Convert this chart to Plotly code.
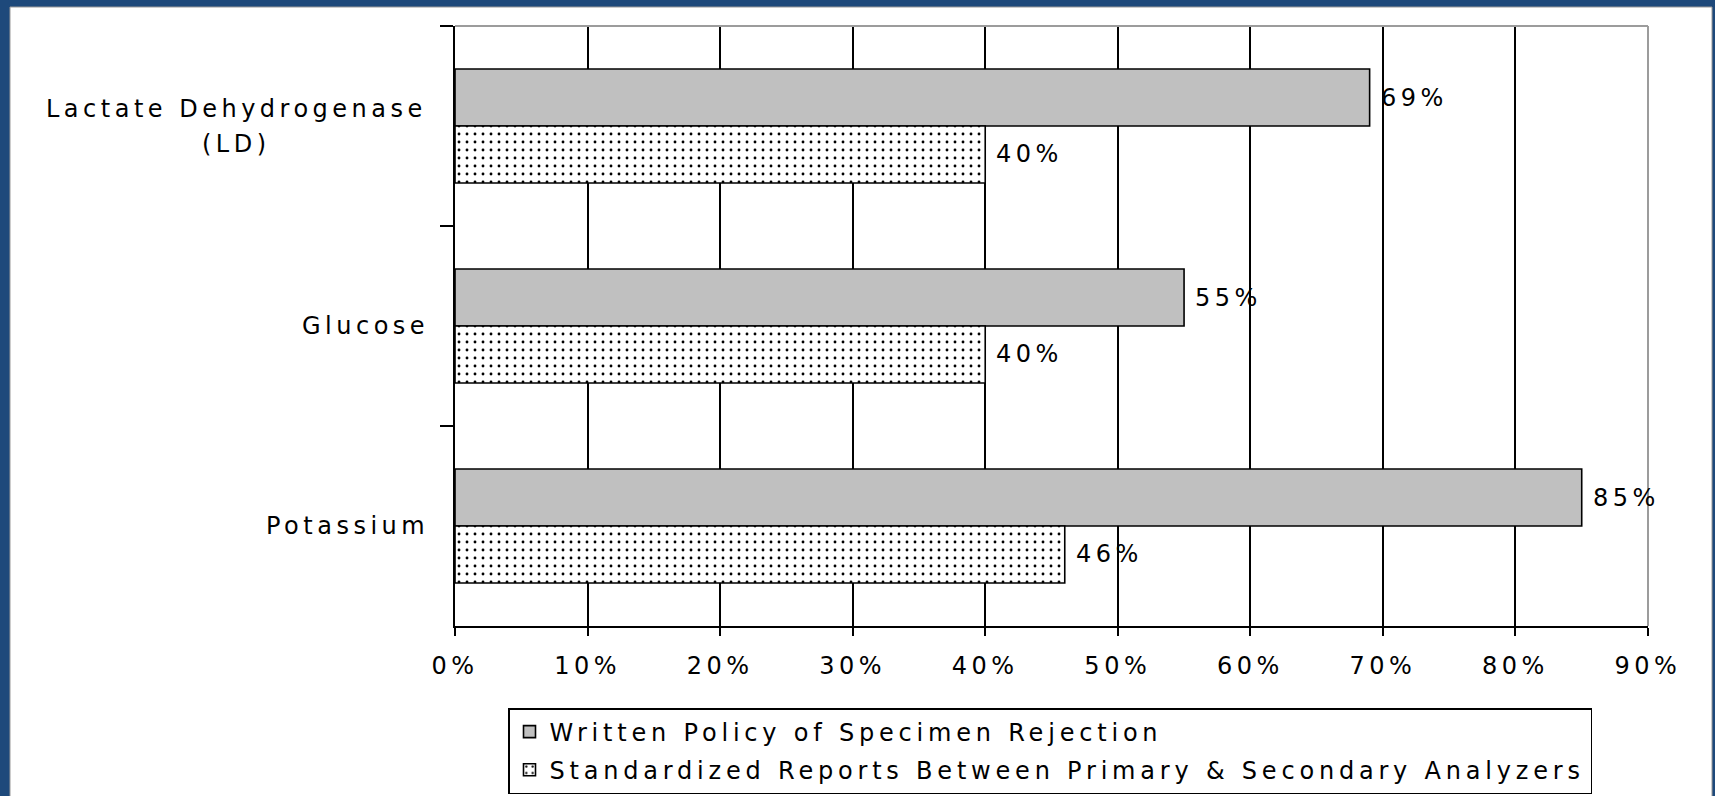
import plotly.graph_objects as go

# ---- data -------------------------------------------------------------
categories = ["Lactate Dehydrogenase<br>(LD)", "Glucose", "Potassium"]
written_policy = [69, 55, 85]
standardized_reports = [40, 40, 46]
series_names = [
    "Written Policy of Specimen Rejection",
    "Standardized Reports Between Primary & Secondary Analyzers",
]
x_ticks = [0, 10, 20, 30, 40, 50, 60, 70, 80, 90]
x_tick_labels = ["0%", "10%", "20%", "30%", "40%", "50%", "60%", "70%", "80%", "90%"]

# ---- page geometry ----------------------------------------------------
WIDTH, HEIGHT = 1715, 796
M_L, M_R, M_T, M_B = 455, 67, 26, 170
PLOT_W = WIDTH - M_L - M_R
PLOT_H = HEIGHT - M_T - M_B

FONT = "DejaVu Sans"
FSIZE = 24
SPACING = 4.5
LEGEND_SPACING = 4.8


def spaced(s, sp=SPACING):
    """Wrap text in a span that widens the letter spacing."""
    return f'<span style="letter-spacing:{sp}px">{s}</span>'


def px_x(px):
    return (px - M_L) / PLOT_W


def px_y(py):
    return (HEIGHT - M_B - py) / PLOT_H


fig = go.Figure()

fig.add_trace(go.Bar(
    name=spaced(series_names[0], LEGEND_SPACING),
    x=written_policy,
    y=categories,
    orientation="h",
    legendgroup="a",
    marker=dict(color="#C0C0C0", line=dict(color="black", width=1.6)),
    hoverinfo="skip",
))
fig.add_trace(go.Bar(
    name=spaced(series_names[1], LEGEND_SPACING),
    x=standardized_reports,
    y=categories,
    orientation="h",
    legendgroup="b",
    marker=dict(
        color="white",
        line=dict(color="black", width=1.6),
        pattern=dict(shape=".", fgcolor="black", bgcolor="white",
                     size=8, solidity=0.1, fillmode="replace"),
    ),
    hoverinfo="skip",
))

annotations = []

# value labels beside each bar
for vals, shift in ((written_policy, 28), (standardized_reports, -28)):
    for cat, v in zip(categories, vals):
        annotations.append(dict(
            x=v, y=cat, xref="x", yref="y",
            text=spaced(f"{v}%"), showarrow=False,
            xanchor="left", yanchor="middle", xshift=9, yshift=shift,
            font=dict(family=FONT, size=FSIZE, color="black"),
        ))

# category labels left of the axis (multi-line labels centred line by line)
for cat in categories:
    lines = cat.split("<br>")
    if len(lines) == 1:
        annotations.append(dict(
            x=0, y=cat, xref="paper", yref="y",
            text=spaced(lines[0]), showarrow=False,
            xanchor="right", yanchor="middle", xshift=-24,
            font=dict(family=FONT, size=FSIZE, color="black"),
        ))
    else:
        n = len(lines)
        for i, line in enumerate(lines):
            annotations.append(dict(
                x=px_x(236), y=cat, xref="paper", yref="y",
                text=spaced(line), showarrow=False,
                xanchor="center", yanchor="middle",
                yshift=(n - 1) / 2 * 35 - i * 35,
                font=dict(family=FONT, size=FSIZE, color="black"),
            ))

shapes = [
    # white page inside the blue frame
    dict(type="rect", xref="paper", yref="paper",
         x0=px_x(10), x1=px_x(1712), y0=px_y(7), y1=px_y(820),
         fillcolor="white", line=dict(color="#9A9A9A", width=1), layer="below"),
    # grey top and right edges of the plot area
    dict(type="line", xref="paper", yref="paper", x0=0, x1=1, y0=1, y1=1,
         line=dict(color="#9C9C9C", width=2), layer="above"),
    dict(type="line", xref="paper", yref="paper", x0=1, x1=1, y0=0, y1=1,
         line=dict(color="#9C9C9C", width=2), layer="above"),
]

fig.update_layout(
    width=WIDTH, height=HEIGHT,
    margin=dict(l=M_L, r=M_R, t=M_T, b=M_B, pad=0, autoexpand=False),
    paper_bgcolor="#1E497B",
    plot_bgcolor="white",
    barmode="group",
    bargap=0.43,
    bargroupgap=0,
    font=dict(family=FONT, size=FSIZE, color="black"),
    showlegend=True,
    legend=dict(
        x=px_x(508), y=px_y(708), xanchor="left", yanchor="top",
        bgcolor="white", bordercolor="black", borderwidth=1.5,
        traceorder="grouped", tracegroupgap=4,
        font=dict(family=FONT, size=FSIZE, color="black"),
        itemwidth=30,
    ),
    xaxis=dict(
        range=[0, 90], tickvals=x_ticks,
        ticktext=[spaced(t) for t in x_tick_labels],
        showgrid=True, gridcolor="black", gridwidth=2,
        showline=True, linecolor="black", linewidth=2,
        ticks="outside", ticklen=8, tickwidth=2, tickcolor="black",
        zeroline=False, ticklabelstandoff=9,
        tickfont=dict(family=FONT, size=FSIZE, color="black"),
    ),
    yaxis=dict(
        type="category", categoryorder="array", categoryarray=categories,
        autorange="reversed",
        showgrid=False, showline=True, linecolor="black", linewidth=2,
        ticks="outside", tickson="boundaries", ticklen=13, tickwidth=2,
        tickcolor="black", showticklabels=False, zeroline=False,
    ),
    annotations=annotations,
    shapes=shapes,
)

fig.write_html("out.html")
